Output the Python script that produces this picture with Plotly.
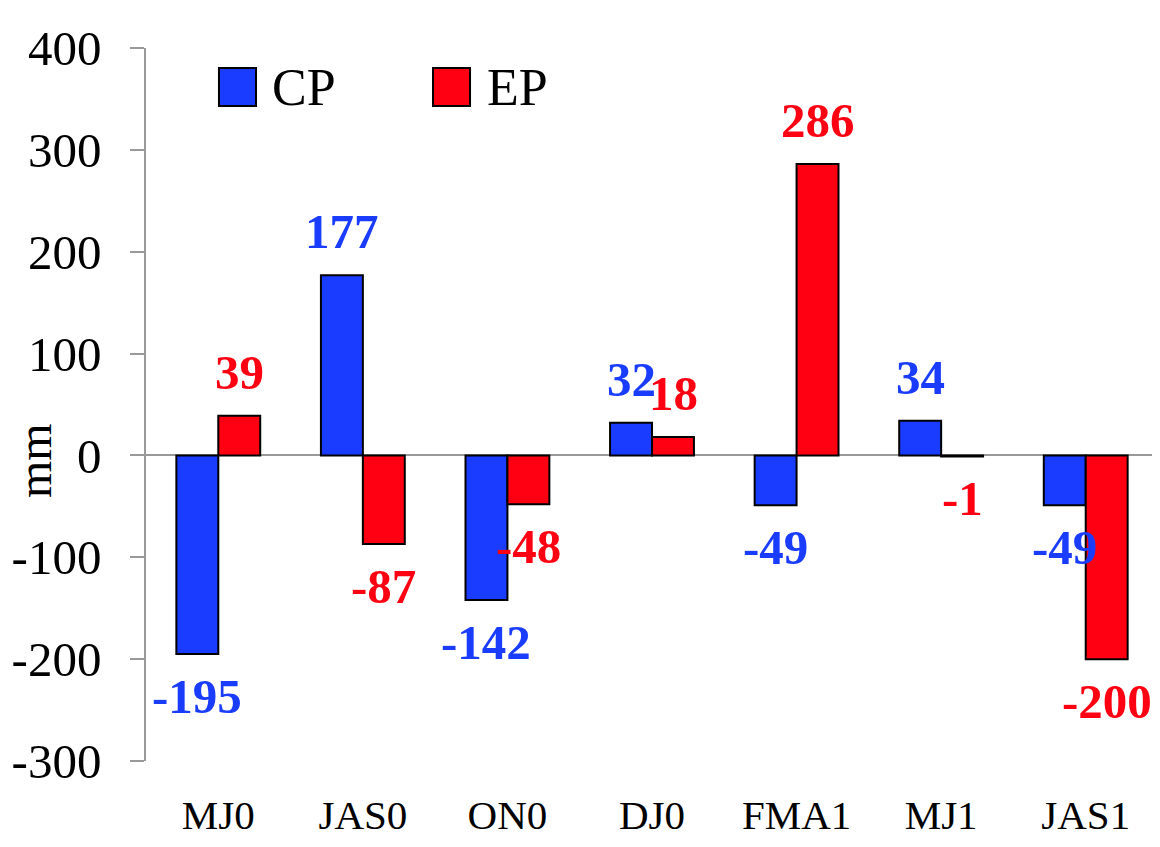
import plotly.graph_objects as go

categories = ["MJ0", "JAS0", "ON0", "DJ0", "FMA1", "MJ1", "JAS1"]
cp_values = [-195, 177, -142, 32, -49, 34, -49]
ep_values = [39, -87, -48, 18, 286, -1, -200]
y_ticks = [-300, -200, -100, 0, 100, 200, 300, 400]
y_tick_labels = ["-300", "-200", "-100", "0", "100", "200", "300", "400"]

BLUE = "rgb(26,60,255)"
RED = "rgb(255,0,18)"
FONT = "Liberation Serif"

fig = go.Figure()
fig.add_trace(go.Bar(x=categories, y=cp_values, name="CP",
                     marker=dict(color=BLUE, line=dict(color="black", width=2))))
fig.add_trace(go.Bar(x=categories, y=ep_values, name="EP",
                     marker=dict(color=RED, line=dict(color="black", width=2))))

# value labels
for vals, color, dx in [(cp_values, BLUE, -21), (ep_values, RED, 21)]:
    for c, v in zip(categories, vals):
        pos = v >= 0
        fig.add_annotation(x=c, y=v, text=f"<b>{v}</b>", showarrow=False,
                           xshift=dx, yshift=14 if pos else -13,
                           yanchor="bottom" if pos else "top",
                           font=dict(family=FONT, size=49, color=color))

# custom legend
for (x0, x1, color, label, tx) in [(0.0721, 0.1087, BLUE, "CP", 0.1225),
                                   (0.2836, 0.3202, RED, "EP", 0.335)]:
    fig.add_shape(type="rect", xref="paper", yref="paper", x0=x0, x1=x1,
                  y0=0.9187, y1=0.9719, fillcolor=color,
                  line=dict(color="black", width=2))
    fig.add_annotation(xref="paper", yref="paper", x=tx, y=0.9453, text=label,
                       showarrow=False, xanchor="left", yanchor="middle",
                       font=dict(family=FONT, size=52, color="black"))

# y-axis title
fig.add_annotation(xref="paper", yref="paper", x=-0.1107, y=0.422, text="mm",
                   showarrow=False, textangle=-90, xanchor="center", yanchor="middle",
                   font=dict(family=FONT, size=48, color="black"))

fig.update_layout(
    width=1152, height=839,
    margin=dict(l=138, r=2, t=40, b=86),
    paper_bgcolor="white", plot_bgcolor="white",
    barmode="group", bargap=0.42, bargroupgap=0,
    showlegend=False,
    font=dict(family=FONT, color="black"),
    xaxis=dict(type="category", showline=False, ticks="", showgrid=False,
               zeroline=False, ticklabelstandoff=26, automargin=False,
               tickfont=dict(family=FONT, size=41, color="black")),
    yaxis=dict(range=[-300, 400], tickvals=y_ticks, ticktext=y_tick_labels,
               showgrid=False, automargin=False,
               showline=True, linecolor="#999999", linewidth=1.5,
               ticks="outside", ticklen=14, tickcolor="#999999", tickwidth=1.5,
               zeroline=True, zerolinecolor="#999999", zerolinewidth=1.5,
               tickfont=dict(family=FONT, size=49, color="black"),
               ticklabelstandoff=19),
)

fig.write_html("out.html")
